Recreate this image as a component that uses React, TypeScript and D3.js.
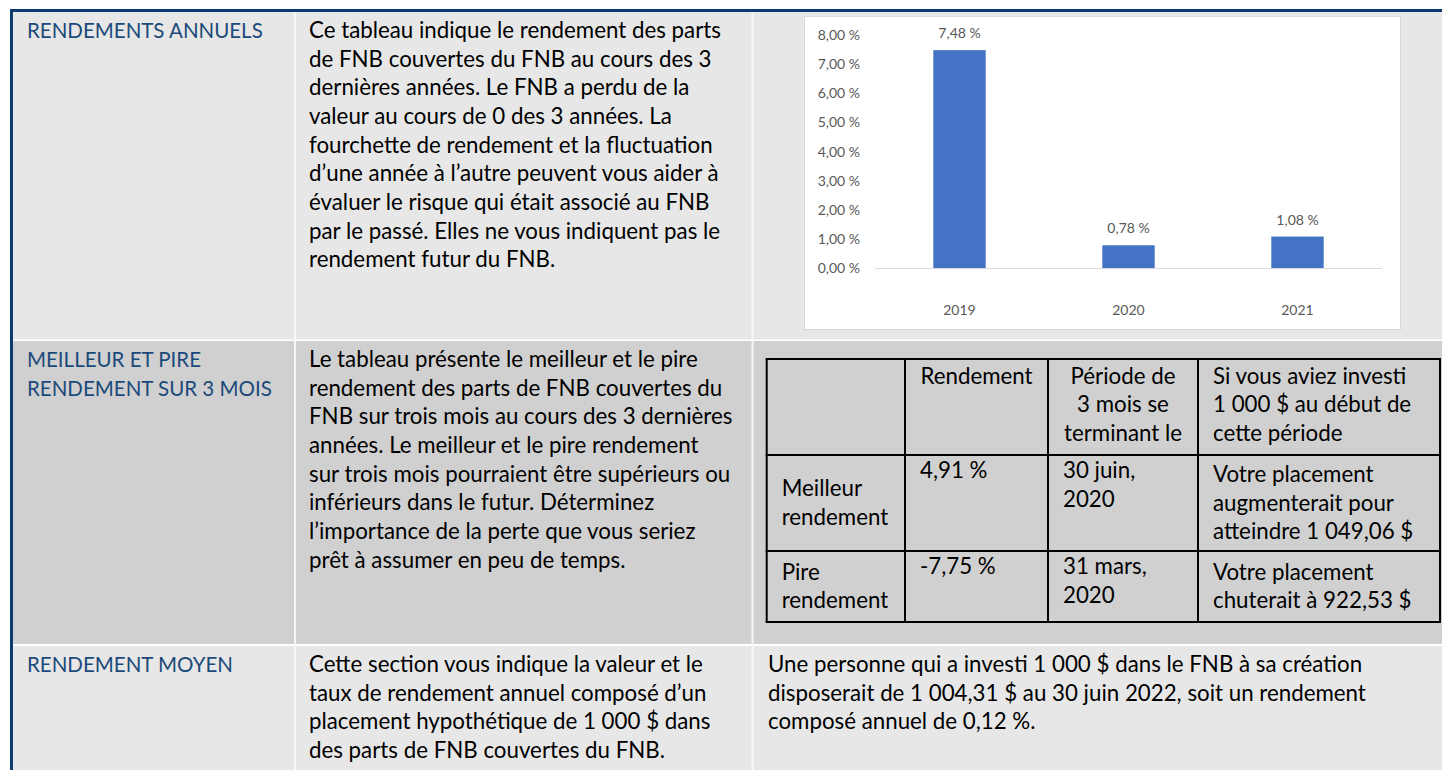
import * as d3 from 'd3';

// chart data
const years = ['2019', '2020', '2021'];
const returns = [7.48, 0.78, 1.08];
const yTicks = [0, 1, 2, 3, 4, 5, 6, 7, 8];

// document text
const rowTitles = [
    ['RENDEMENTS ANNUELS'],
    ['MEILLEUR ET PIRE', 'RENDEMENT SUR 3 MOIS'],
    ['RENDEMENT MOYEN'],
];
const rowDescriptions = [
    [
        'Ce tableau indique le rendement des parts',
        'de FNB couvertes du FNB au cours des 3',
        'dernières années. Le FNB a perdu de la',
        'valeur au cours de 0 des 3 années. La',
        'fourchette de rendement et la fluctuation',
        'd’une année à l’autre peuvent vous aider à',
        'évaluer le risque qui était associé au FNB',
        'par le passé. Elles ne vous indiquent pas le',
        'rendement futur du FNB.',
    ],
    [
        'Le tableau présente le meilleur et le pire',
        'rendement des parts de FNB couvertes du',
        'FNB sur trois mois au cours des 3 dernières',
        'années. Le meilleur et le pire rendement',
        'sur trois mois pourraient être supérieurs ou',
        'inférieurs dans le futur. Déterminez',
        'l’importance de la perte que vous seriez',
        'prêt à assumer en peu de temps.',
    ],
    [
        'Cette section vous indique la valeur et le',
        'taux de rendement annuel composé d’un',
        'placement hypothétique de 1 000 $ dans',
        'des parts de FNB couvertes du FNB.',
    ],
];
const tableHeader = [[], ['Rendement'], ['Période de', '3 mois se', 'terminant le'], ['Si vous aviez investi', '1 000 $ au début de', 'cette période']];
const tableRows = [
    [['Meilleur', 'rendement'], ['4,91 %'], ['30 juin,', '2020'], ['Votre placement', 'augmenterait pour', 'atteindre 1 049,06 $']],
    [['Pire', 'rendement'], ['-7,75 %'], ['31 mars,', '2020'], ['Votre placement', 'chuterait à 922,53 $']],
];
const averageText = [
    'Une personne qui a investi 1 000 $ dans le FNB à sa création',
    'disposerait de 1 004,31 $ au 30 juin 2022, soit un rendement',
    'composé annuel de 0,12 %.',
];

const FONT = 'Lato, "Open Sans", sans-serif';
const BODY = 22.3;
const TITLE_SIZE = 20.5;
const LH = 28.67;
const NAVY = '#0d3b6e';
const TITLE = '#1b4a7a';

const fr = d3.formatLocale({decimal: ',', thousands: ' ', grouping: [3], currency: ['', ' $']});
const pct = (v: number) => fr.format('.2f')(v) + ' %';

const rowTops = [12, 341, 646];
const rowBottoms = [339.5, 644, 770];
const rowFills = ['#e7e7e7', '#d0d0d0', '#e7e7e7'];

const Lines = (props: {lines: string[], x: number, y: number, fill?: string, anchor?: string, size?: number}) => (
    <g>
        {props.lines.map((l, i) => (
            <text key={i} x={props.x} y={props.y + i * LH} fill={props.fill ?? '#000'} fontSize={props.size ?? BODY}
                  textAnchor={props.anchor ?? 'start'}>{l}</text>
        ))}
    </g>
);

const BarChart = () => {
    const x = d3.scaleBand<string>().domain(years).range([875, 1382]).paddingInner(0.69).paddingOuter(0.345);
    const y = d3.scaleLinear().domain([0, 8]).range([268, 35]);
    const bw = x.bandwidth();

    return (
        <g fontSize={14} fill="#595959">
            <rect x={804.5} y={16.5} width={596} height={313} fill="#fff" stroke="#d9d9d9" />
            {yTicks.map(t => (
                <text key={t} x={860} y={y(t)} dy="0.36em" textAnchor="end">{pct(t)}</text>
            ))}
            <line x1={875} x2={1382} y1={y(0) + 0.5} y2={y(0) + 0.5} stroke="#d9d9d9" />
            {years.map((yr, i) => (
                <g key={yr}>
                    <rect x={x(yr)} y={y(returns[i])} width={bw} height={y(0) - y(returns[i])} fill="#4472c4" />
                    <text x={(x(yr) ?? 0) + bw / 2} y={y(returns[i]) - 12} textAnchor="middle">{pct(returns[i])}</text>
                    <text x={(x(yr) ?? 0) + bw / 2} y={315} textAnchor="middle">{yr}</text>
                </g>
            ))}
        </g>
    );
};

const BestWorstTable = () => {
    const cols = [766.7, 905, 1048, 1198, 1440];
    const rows = [359, 455, 551, 622];
    const pad = 15;

    return (
        <g>
            {tableHeader.map((cell, c) => (
                <Lines key={c} lines={cell} x={c === 3 ? cols[c] + pad : (cols[c] + cols[c + 1]) / 2}
                       y={rows[0] + 24.5} anchor={c === 3 ? 'start' : 'middle'} />
            ))}
            {tableRows.map((row, r) => row.map((cell, c) => {
                const top = rows[r + 1], bottom = rows[r + 2];
                const centered = c === 0 || c === 3;
                const y0 = centered ? (top + bottom) / 2 - (cell.length - 1) * LH / 2 + 7.5 : top + 23;
                return <Lines key={r + '-' + c} lines={cell} x={cols[c] + pad} y={y0} />;
            }))}
            {rows.map((ry, i) => (
                <line key={'h' + i} x1={cols[0] - 1} x2={cols[4] + 1} y1={ry} y2={ry} stroke="#000" strokeWidth={2} />
            ))}
            {cols.map((cx, i) => (
                <line key={'v' + i} x1={cx} x2={cx} y1={rows[0]} y2={rows[3]} stroke="#000" strokeWidth={2} />
            ))}
        </g>
    );
};

const App = () => {
    return (
        <div style={{position: 'absolute', left: 0, top: 0, width: 1442, height: 770, background: '#fff'}}>
            <svg width={1442} height={770} style={{display: 'block'}} fontFamily={FONT}>
                {rowTops.map((t, i) => (
                    <rect key={i} x={13} y={t} width={1429} height={rowBottoms[i] - t} fill={rowFills[i]} />
                ))}
                {/* white column separators */}
                <rect x={294} y={12} width={2} height={758} fill="#f7f7f7" />
                <rect x={751.5} y={12} width={2} height={758} fill="#f7f7f7" />

                {rowTitles.map((lines, i) => (
                    <Lines key={'t' + i} lines={lines} x={27} y={rowTops[i] + 26} fill={TITLE} size={TITLE_SIZE} />
                ))}
                {rowDescriptions.map((lines, i) => (
                    <Lines key={'d' + i} lines={lines} x={309} y={rowTops[i] + 26} />
                ))}

                <BarChart />
                <BestWorstTable />
                <Lines lines={averageText} x={768} y={rowTops[2] + 26} />

                {/* navy frame */}
                <rect x={10} y={9} width={1432} height={3} fill={NAVY} />
                <rect x={10} y={9} width={3} height={761} fill={NAVY} />
            </svg>
        </div>
    );
};

export default App;
